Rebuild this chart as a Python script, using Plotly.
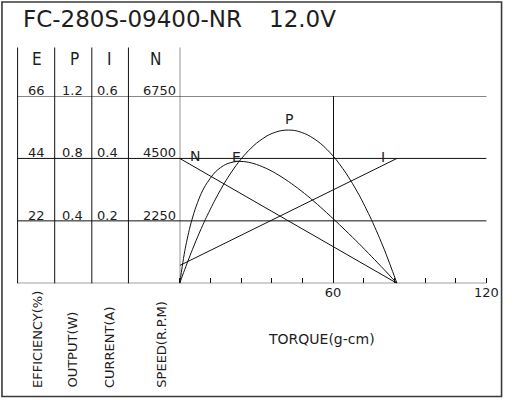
import plotly.graph_objects as go

# ---------------- data ----------------
title_model = "FC-280S-09400-NR"
title_volt = "12.0V"

torque = [0, 1, 2, 4, 6, 8, 10, 14, 18, 22, 26, 30, 35, 40, 45, 50, 55, 60, 65, 70, 75, 80, 85]
efficiency = [0, 6.0, 11.5, 19.8, 26.0, 30.8, 34.4, 39.3, 41.9, 42.9, 42.8, 41.9, 40.0, 37.4,
              34.3, 30.8, 26.9, 22.8, 18.5, 14.1, 9.5, 4.8, 0]
output = [0, 0.046, 0.090, 0.176, 0.258, 0.335, 0.408, 0.540, 0.656, 0.754, 0.834, 0.897, 0.952,
          0.979, 0.979, 0.951, 0.897, 0.816, 0.707, 0.571, 0.408, 0.218, 0]
torque_lin = [0, 85]
speed = [4500, 0]
current = [0.057, 0.40]

# table / axis tick labels
e_ticks = [22, 44, 66]
p_ticks = [0.4, 0.8, 1.2]
i_ticks = [0.2, 0.4, 0.6]
n_ticks = [2250, 4500, 6750]
e_tick_text = ["22", "44", "66"]
p_tick_text = ["0.4", "0.8", "1.2"]
i_tick_text = ["0.2", "0.4", "0.6"]
n_tick_text = ["2250", "4500", "6750"]
x_tickvals = [60, 120]
x_ticktext = ["60", "120"]

col_headers = ["E", "P", "I", "N"]
col_titles = ["EFFICIENCY(%)", "OUTPUT(W)", "CURRENT(A)", "SPEED(R.P.M)"]
x_title = "TORQUE(g-cm)"

# ---------------- layout helpers ----------------
W, H = 516, 400
def px(x):
    return x / W
def py(y):
    return 1 - y / H

FONT = "DejaVu Sans, Liberation Sans, sans-serif"
FONT_C = "DejaVu Sans Condensed, Liberation Sans Narrow, DejaVu Sans, sans-serif"
INK = "#111111"
TXT = "#1e1e1e"

fig = go.Figure()
line = dict(color=INK, width=1)
fig.add_trace(go.Scatter(x=torque_lin, y=speed, mode="lines", line=line, yaxis="y", name="N"))
fig.add_trace(go.Scatter(x=torque, y=output, mode="lines", line=dict(color=INK, width=1, shape="spline", smoothing=0.8), yaxis="y2", name="P"))
fig.add_trace(go.Scatter(x=torque_lin, y=current, mode="lines", line=line, yaxis="y3", name="I"))
fig.add_trace(go.Scatter(x=torque, y=efficiency, mode="lines", line=dict(color=INK, width=1, shape="spline", smoothing=0.8), yaxis="y4", name="E"))

plot_l, plot_r, plot_b, plot_t = 184, 498, 283.3, 96
table_l = 18
col_lines = [18, 56, 94, 131.5]
table_top = 47.5

shapes = []
# outer frame
shapes.append(dict(type="rect", xref="paper", yref="paper", x0=px(2), x1=px(513.5), y0=py(396.5), y1=py(2),
                   line=dict(color="#3a3a3a", width=1.6)))
# horizontal lines across table + chart at the speed-axis values
for v in [0] + n_ticks:
    shapes.append(dict(type="line", xref="paper", yref="y", x0=px(table_l), x1=px(plot_r), y0=v, y1=v,
                       line=dict(color=INK, width=1)))
# table column separators
for c in col_lines:
    shapes.append(dict(type="line", xref="paper", yref="paper", x0=px(c), x1=px(c), y0=py(plot_b), y1=py(table_top),
                       line=dict(color=INK, width=1)))
# chart's left axis line, extended up through the header
shapes.append(dict(type="line", xref="x", yref="paper", x0=0, x1=0, y0=py(plot_b), y1=py(table_top),
                   line=dict(color=INK, width=1)))

annotations = []
annotations.append(dict(text=title_model, xref="paper", yref="paper", x=px(21), y=py(19.5), xanchor="left",
                        yanchor="middle", showarrow=False, font=dict(family=FONT, size=23, color=TXT)))
annotations.append(dict(text=title_volt, xref="paper", yref="paper", x=px(273), y=py(19.5), xanchor="left",
                        yanchor="middle", showarrow=False, font=dict(family=FONT, size=23, color=TXT)))
# column headers
head_x = [37.5, 76, 112, 159]
for h, hx in zip(col_headers, head_x):
    annotations.append(dict(text=h, xref="paper", yref="paper", x=px(hx), y=py(58.5), xanchor="center",
                            yanchor="middle", showarrow=False, font=dict(family=FONT_C, size=17, color=TXT)))
# table values, each placed on its own series axis
cols = [(e_ticks, e_tick_text, "y4", 37.5, "center"),
        (p_ticks, p_tick_text, "y2", 74.5, "center"),
        (i_ticks, i_tick_text, "y3", 110, "center"),
        (n_ticks, n_tick_text, "y", 182, "right")]
for vals, txts, ax, cx, anc in cols:
    for v, t in zip(vals, txts):
        annotations.append(dict(text=t, xref="paper", yref=ax, x=px(cx), y=v, xanchor=anc, yanchor="bottom",
                                yshift=-4, showarrow=False, font=dict(family=FONT, size=13, color=TXT)))
# rotated axis titles
title_x = [38.3, 73.3, 111.7, 165]
for t, tx in zip(col_titles, title_x):
    annotations.append(dict(text=t, xref="paper", yref="paper", x=px(tx), y=py(390), xanchor="center",
                            yanchor="bottom", textangle=-90, showarrow=False,
                            font=dict(family=FONT, size=13, color=TXT)))
annotations.append(dict(text=x_title, xref="paper", yref="paper", x=px(329), y=py(339), xanchor="center",
                        yanchor="middle", showarrow=False, font=dict(family=FONT, size=14, color=TXT)))
# curve labels
curve_labels = [("N", 6.1, 4580, "y"), ("E", 22.2, 44.6, "y4"), ("P", 42.7, 1.0, "y2"), ("I", 79.5, 0.405, "y3")]
label_shift = {"N": 0, "E": 0, "P": 8, "I": 0}
for t, xv, yv, ax in curve_labels:
    annotations.append(dict(text=t, xref="x", yref=ax, x=xv, y=yv, xanchor="center", yanchor="middle",
                            showarrow=False, yshift=label_shift[t], font=dict(family=FONT, size=14, color=TXT)))

fig.update_layout(
    width=W, height=H, autosize=False, margin=dict(l=0, r=0, t=0, b=0, pad=0),
    paper_bgcolor="white", plot_bgcolor="white", showlegend=False,
    xaxis=dict(domain=[px(plot_l), px(plot_r)], range=[0, 120], tickvals=x_tickvals, ticktext=x_ticktext,
               showgrid=True, gridcolor=INK, gridwidth=1, zeroline=False, showline=False, ticks="",
               tickfont=dict(family=FONT, size=13, color=TXT), fixedrange=True,
               minor=dict(tickmode="linear", tick0=0, dtick=12, ticks="inside", ticklen=5,
                          tickcolor=INK, tickwidth=1, showgrid=False)),
    yaxis=dict(domain=[py(plot_b), py(plot_t)], range=[0, 6750], visible=False, fixedrange=True),
    yaxis2=dict(range=[0, 1.2], overlaying="y", visible=False),
    yaxis3=dict(range=[0, 0.6], overlaying="y", visible=False),
    yaxis4=dict(range=[0, 66], overlaying="y", visible=False),
    shapes=shapes, annotations=annotations,
)

fig.write_html("out.html", config={"displayModeBar": False, "responsive": False},
               post_script="document.body.style.margin='0';document.body.style.overflow='hidden';")
